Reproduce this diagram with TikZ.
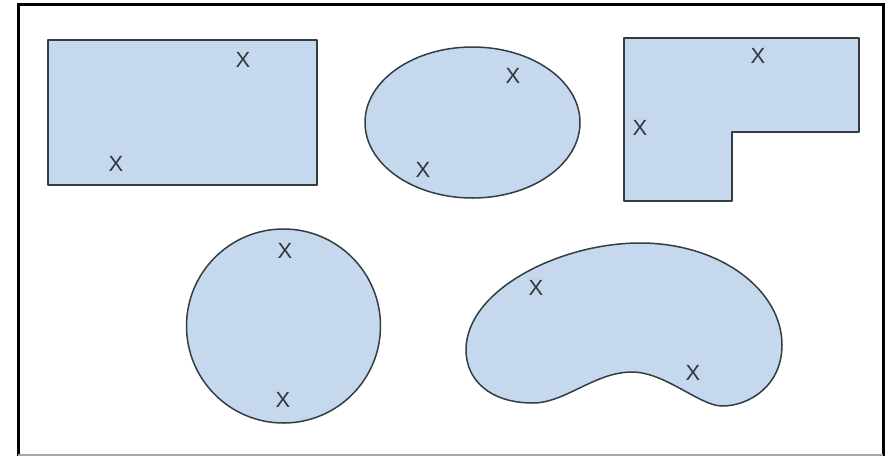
\documentclass[tikz,border=0pt]{standalone}
\usepackage{fontspec}
\setmainfont{Liberation Sans}
\definecolor{shapefill}{RGB}{198,216,238}
\definecolor{shapeline}{RGB}{50,62,66}
\definecolor{markcol}{RGB}{50,55,60}
\begin{document}
\begin{tikzpicture}[x=1pt,y=-1pt,
  shp/.style={fill=shapefill,draw=shapeline,line width=1.5pt,line join=round},
  xmark/.style={text=markcol,font=\fontsize{22}{22}\selectfont,inner sep=0pt}]
\useasboundingbox (0,0) rectangle (891,456);
\fill[white] (0,0) rectangle (891,456);
% frame
\draw[black,line width=3pt] (18,456) -- (18,4) -- (883,4) -- (883,456);
\draw[gray!70,line width=1.2pt] (18,455) -- (883,455);
% rectangle
\draw[shp] (48,40) rectangle (317,185);
\node[xmark] (r1) at (243,60) {X};
\node[xmark] (r2) at (116,164) {X};
% ellipse
\draw[shp] (472.5,122.5) ellipse [x radius=107.5, y radius=75.5];
\node[xmark] (e1) at (513,76) {X};
\node[xmark] (e2) at (423,170) {X};
% L shape
\draw[shp] (624,38) -- (859,38) -- (859,132) -- (732,132) -- (732,201) -- (624,201) -- cycle;
\node[xmark] (l1) at (758,56) {X};
\node[xmark] (l2) at (640,128) {X};
% circle
\draw[shp] (283.5,326) circle [radius=97];
\node[xmark] (c1) at (285,251) {X};
\node[xmark] (c2) at (283,400) {X};
% kidney
\draw[shp] (466,350) .. controls (466,290) and (560,243) .. (640,243)
  .. controls (720,243) and (782,290) .. (782,345)
  .. controls (782,385) and (750,406) .. (722,406)
  .. controls (700,406) and (665,372) .. (632,372)
  .. controls (595,372) and (565,403) .. (533,403)
  .. controls (490,403) and (466,380) .. (466,350) -- cycle;
\node[xmark] (k1) at (536,288) {X};
\node[xmark] (k2) at (693,373) {X};
\end{tikzpicture}
\end{document}
